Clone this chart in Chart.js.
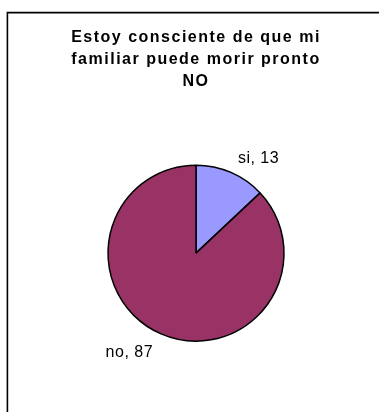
<!DOCTYPE html>
<html>
<head>
<meta charset="utf-8">
<script src="https://cdn.jsdelivr.net/npm/chart.js@4/dist/chart.umd.min.js"></script>
<style>
    html, body { margin: 0; padding: 0; background: #fff; }
    #wrap { position: relative; width: 379px; height: 412px; }
</style>
</head>
<body>
<div id="wrap"><canvas id="pie-chart" width="379" height="412"></canvas></div>
<script>
const titleLines = ['Estoy consciente de que mi', 'familiar puede morir pronto', 'NO'];
const categories = ['si', 'no'];
const values = [13, 87];
const sliceColors = ['#9999FF', '#993366'];

document.addEventListener('DOMContentLoaded', function () {
    // Frame lines along the top and left edge
    const framePlugin = {
        id: 'frame',
        beforeDraw(chart) {
            const ctx = chart.ctx;
            ctx.save();
            ctx.strokeStyle = '#000';
            ctx.lineWidth = 1.6;
            ctx.beginPath();
            ctx.moveTo(7.4, chart.height);
            ctx.lineTo(7.4, 12.6);
            ctx.lineTo(chart.width, 12.6);
            ctx.stroke();
            ctx.restore();
            // title is drawn with slightly wide spacing
            ctx.letterSpacing = '1.5px';
        },
        beforeDatasetsDraw(chart) {
            chart.ctx.letterSpacing = '0px';
        }
    };

    // "category, value" labels just outside each slice
    const sliceLabels = {
        id: 'sliceLabels',
        afterDatasetsDraw(chart) {
            const ctx = chart.ctx;
            const arcs = chart.getDatasetMeta(0).data;
            ctx.save();
            ctx.font = '16px "Liberation Sans", Arial, sans-serif';
            ctx.fillStyle = '#000';
            ctx.letterSpacing = '0.5px';
            arcs.forEach(function (arc, i) {
                const mid = (arc.startAngle + arc.endAngle) / 2;
                const r = arc.outerRadius + 10;
                const x = arc.x + Math.cos(mid) * r;
                const y = arc.y + Math.sin(mid) * r;
                ctx.textAlign = Math.cos(mid) >= 0 ? 'left' : 'right';
                ctx.textBaseline = Math.sin(mid) >= 0 ? 'top' : 'alphabetic';
                ctx.fillText(categories[i] + ', ' + values[i], x + (Math.cos(mid) >= 0 ? 3 : -4), y + (Math.sin(mid) >= 0 ? 2 : 0));
            });
            ctx.restore();
        }
    };

    const ctx = document.getElementById('pie-chart').getContext('2d');
    new Chart(ctx, {
        type: 'pie',
        data: {
            labels: categories,
            datasets: [{
                data: values,
                backgroundColor: sliceColors,
                borderColor: '#000',
                borderWidth: 1.5
            }]
        },
        options: {
            responsive: false,
            animation: false,
            radius: 88,
            layout: {
                padding: { left: 20, right: 7, top: 0, bottom: 8 }
            },
            plugins: {
                legend: { display: false },
                tooltip: { enabled: false },
                title: {
                    display: true,
                    text: titleLines,
                    color: '#000',
                    font: {
                        family: '"Liberation Sans", Arial, sans-serif',
                        size: 16,
                        weight: 'bold',
                        lineHeight: 1.36
                    },
                    padding: { top: 27, bottom: 10 }
                }
            }
        },
        plugins: [framePlugin, sliceLabels]
    });
});
</script>
</body>
</html>
